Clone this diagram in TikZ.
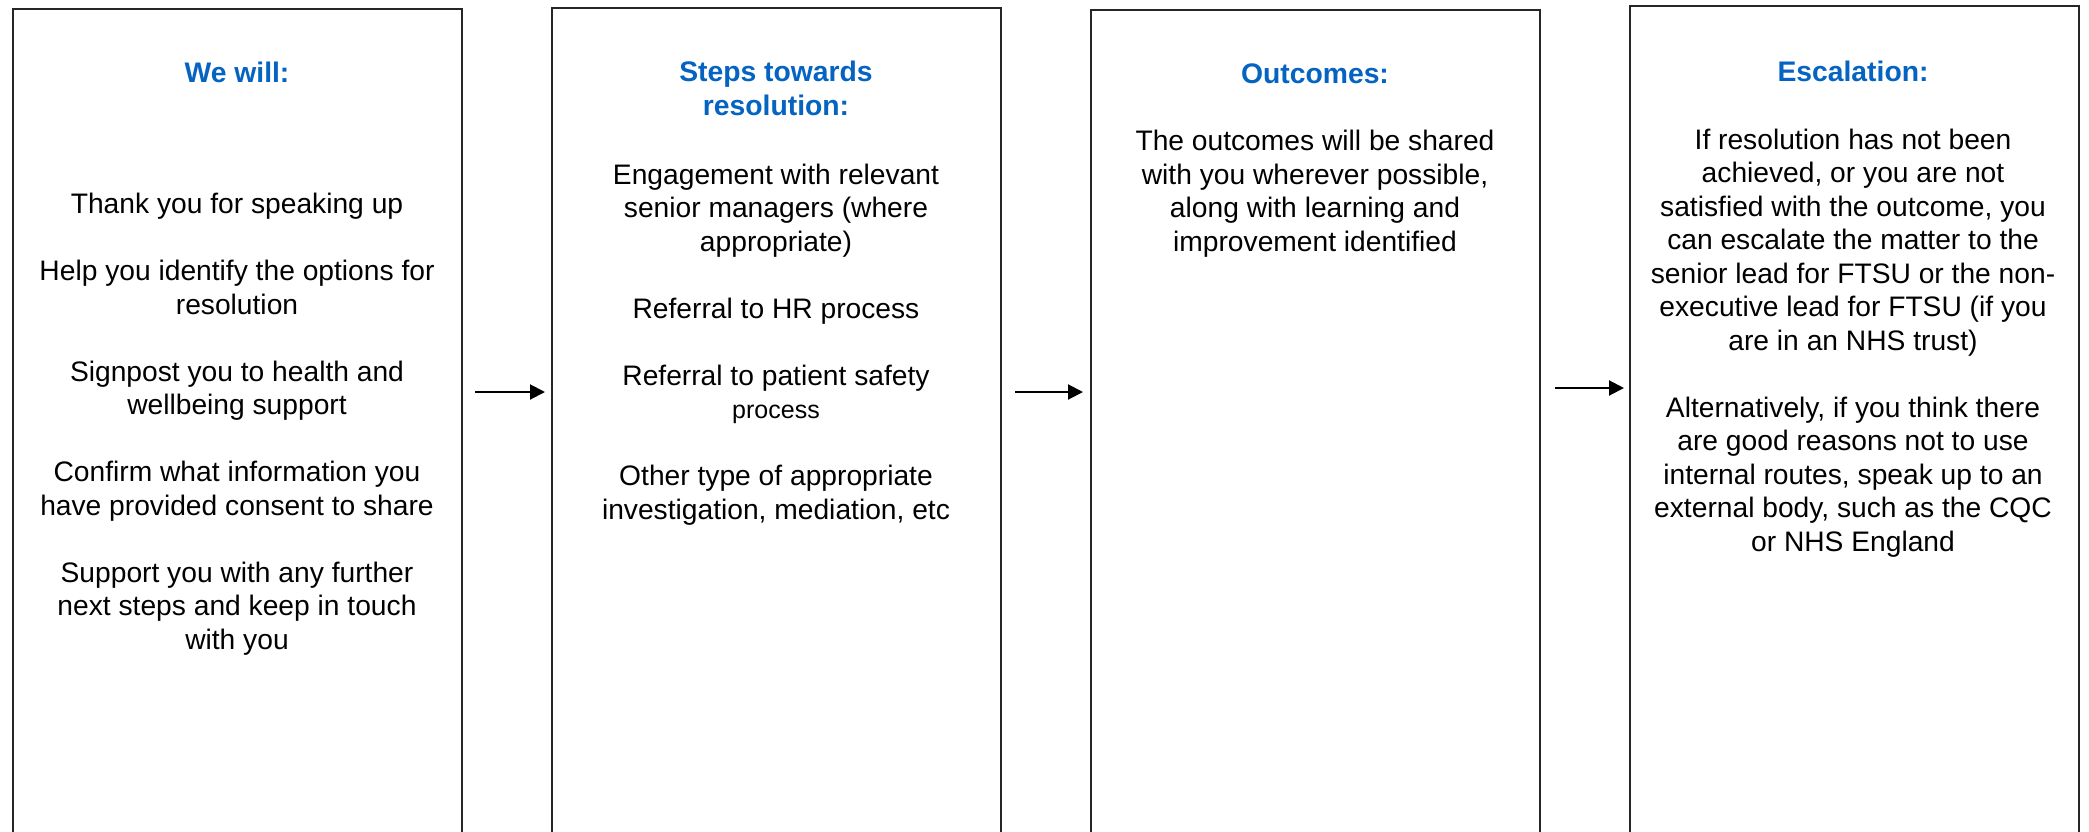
\documentclass[tikz,border=0pt]{standalone}
\usepackage{fontspec}
\setmainfont{Liberation Sans}
\usetikzlibrary{arrows.meta}
\definecolor{titleblue}{RGB}{5,99,193}
\begin{document}
\begin{tikzpicture}[x=1pt,y=-1pt,
  panel/.style={draw=black!85, line width=1.6pt, minimum width=449pt, minimum height=900pt, anchor=north west, inner sep=0pt},
  title/.style={font=\fontsize{28.3}{33.5}\selectfont\bfseries, text=titleblue, align=center, anchor=base, inner sep=0pt},
  body/.style={font=\fontsize{28.2}{33.5}\selectfont, align=center, anchor=base, inner sep=0pt},
  flow/.style={line width=2pt, -{Triangle[length=15pt,width=15pt]}}]
\useasboundingbox (0,0) rectangle (2089,831);
\clip (0,0) rectangle (2089,831);
\fill[white] (0,0) rectangle (2089,831);
% panels
\node[panel] (p1) at (12,8) {};
\node[panel] (p2) at (551,7) {};
\node[panel] (p3) at (1090,9) {};
\node[panel] (p4) at (1629,5) {};
% titles (anchored at the baseline of their last line)
\node[title] (t1) at (237,82) {We will:};
\node[title] (t2) at (776,115) {Steps towards\\resolution:};
\node[title] (t3) at (1315,83) {Outcomes:};
\node[title] (t4) at (1853,81) {Escalation:};
% bodies (anchored at the baseline of their last line)
\node[body] (b1) at (237,649) {Thank you for speaking up\\[33.5pt]
Help you identify the options for\\resolution\\[33.5pt]
Signpost you to health and\\wellbeing support\\[33.5pt]
Confirm what information you\\have provided consent to share\\[33.5pt]
Support you with any further\\next steps and keep in touch\\with you};
\node[body] (b2) at (776,519) {Engagement with relevant\\senior managers (where\\appropriate)\\[33.5pt]
Referral to HR process\\[33.5pt]
Referral to patient safety\\{\fontsize{25}{33.5}\selectfont process}\\[33.5pt]
Other type of appropriate\\investigation, mediation, etc};
\node[body] (b3) at (1315,251) {The outcomes will be shared\\with you wherever possible,\\along with learning and\\improvement identified};
\node[body] (b4) at (1853,551) {If resolution has not been\\achieved, or you are not\\satisfied with the outcome, you\\can escalate the matter to the\\senior lead for FTSU or the non-\\executive lead for FTSU (if you\\are in an NHS trust)\\[33.5pt]
Alternatively, if you think there\\are good reasons not to use\\internal routes, speak up to an\\external body, such as the CQC\\or NHS England};
% arrows
\coordinate (a1s) at (475,392);
\coordinate (a1e) at (545,392);
\coordinate (a2s) at (1015,392);
\coordinate (a2e) at (1083,392);
\coordinate (a3s) at (1555,388);
\coordinate (a3e) at (1624,388);
\draw[flow] (a1s) -- (a1e);
\draw[flow] (a2s) -- (a2e);
\draw[flow] (a3s) -- (a3e);
\end{tikzpicture}
\end{document}
